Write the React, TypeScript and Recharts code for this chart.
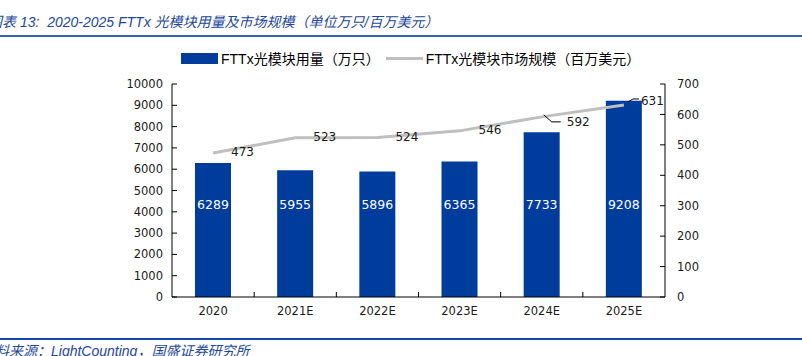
import { ComposedChart, Bar, Line, XAxis, YAxis, LabelList } from 'recharts';

const years = ['2020', '2021E', '2022E', '2023E', '2024E', '2025E'];
const volume = [6289, 5955, 5896, 6365, 7733, 9208];
const market = [473, 523, 524, 546, 592, 631];
const leftTicks = [0, 1000, 2000, 3000, 4000, 5000, 6000, 7000, 8000, 9000, 10000];
const rightTicks = [0, 100, 200, 300, 400, 500, 600, 700];

const data = years.map((year, i) => ({ year, volume: volume[i], market: market[i] }));

const BLUE = '#003c9b';
const GREY = '#bfbfbf';
const TICK_FONT = '"DejaVu Sans", Tahoma, sans-serif';
const NOTE_FONT = '"Liberation Sans", "Noto Sans CJK SC", sans-serif';

const W = 802;
const H = 356;
const PLOT_LEFT = 172;
const PLOT_RIGHT = 665;
const PLOT_TOP = 84;
const PLOT_BOTTOM = 297;
const BAND = (PLOT_RIGHT - PLOT_LEFT) / years.length;

// label placement next to each line point (dx, dy, leader line or not)
const lineLabelPos = [
    { dx: 18, dy: -1, leader: null },
    { dx: 18, dy: -1, leader: null },
    { dx: 18, dy: -1, leader: null },
    { dx: 19, dy: -1, leader: null },
    { dx: 25, dy: 5, leader: [[2, -2], [10, 5], [19, 5]] },
    { dx: 17, dy: -4, leader: [[4, -3], [9, -6], [15, -6]] },
];

const CategoryTick = (props: any) => {
    const { x, payload, index } = props;
    return (
        <g>
            <text x={x} y={PLOT_BOTTOM + 18} textAnchor="middle" fontSize={11.5} fontFamily={TICK_FONT} fill="#1a1a1a">
                {payload.value}
            </text>
            {index < years.length - 1 && (
                <line x1={x + BAND / 2} x2={x + BAND / 2} y1={PLOT_BOTTOM} y2={PLOT_BOTTOM - 5} stroke="#000" strokeWidth={1} />
            )}
        </g>
    );
};

const BarValueLabel = (props: any) => {
    const { x, y, width, height, value } = props;
    return (
        <text x={x + width / 2} y={y + height - 93} textAnchor="middle" dominantBaseline="central" fontSize={12.5} fontFamily={TICK_FONT} fill="#fff">
            {value}
        </text>
    );
};

const LineValueLabel = (props: any) => {
    const { x, y, value, index } = props;
    const pos = lineLabelPos[index];
    return (
        <g>
            {pos.leader && (
                <polyline
                    points={pos.leader.map(([a, b]) => `${x + a},${y + b}`).join(' ')}
                    fill="none"
                    stroke="#000"
                    strokeWidth={1}
                />
            )}
            <text x={x + pos.dx} y={y + pos.dy} textAnchor="start" dominantBaseline="central" fontSize={12} fontFamily={TICK_FONT} fill="#1a1a1a">
                {value}
            </text>
        </g>
    );
};

export default function App() {
    return (
        <div style={{ position: 'absolute', left: 0, top: 0, width: W, height: H, overflow: 'hidden', background: '#fff' }}>
            <div style={{ position: 'absolute', left: -12, top: 11, whiteSpace: 'nowrap', fontSize: 14, fontStyle: 'italic', color: '#24479a', fontFamily: NOTE_FONT }}>
                图表 13:&nbsp; 2020-2025 FTTx 光模块用量及市场规模（单位万只/百万美元）
            </div>
            <div style={{ position: 'absolute', left: 0, top: 35, width: W, height: 2, background: '#2e66b5' }} />

            <div style={{ position: 'absolute', left: 181, top: 48, display: 'flex', alignItems: 'center', whiteSpace: 'nowrap', fontSize: 14, color: '#000', fontFamily: NOTE_FONT }}>
                <span style={{ display: 'inline-block', width: 37, height: 11, background: BLUE, marginRight: 3 }} />
                <span>FTTx光模块用量（万只）</span>
                <span style={{ display: 'inline-block', width: 37, height: 3, background: GREY, marginLeft: 6, marginRight: 3 }} />
                <span>FTTx光模块市场规模（百万美元）</span>
            </div>

            <div style={{ position: 'absolute', left: 0, top: 0 }}>
                <ComposedChart
                    width={W}
                    height={H}
                    data={data}
                    margin={{ top: PLOT_TOP, right: 0, bottom: 0, left: 0 }}
                    barCategoryGap={0}
                >
                    <XAxis
                        dataKey="year"
                        height={H - PLOT_BOTTOM}
                        axisLine={{ stroke: '#000', strokeWidth: 1 }}
                        tickLine={false}
                        tick={<CategoryTick />}
                        interval={0}
                    />
                    <YAxis
                        yAxisId="left"
                        orientation="left"
                        width={PLOT_LEFT}
                        domain={[0, 10000]}
                        ticks={leftTicks}
                        interval={0}
                        axisLine={{ stroke: '#000', strokeWidth: 1 }}
                        tickLine={{ stroke: '#000' }}
                        tickSize={-5}
                        tickMargin={14}
                        tick={{ fontSize: 11.5, fontFamily: TICK_FONT, fill: '#1a1a1a' }}
                    />
                    <YAxis
                        yAxisId="right"
                        orientation="right"
                        width={W - PLOT_RIGHT}
                        domain={[0, 700]}
                        ticks={rightTicks}
                        interval={0}
                        axisLine={{ stroke: '#000', strokeWidth: 1 }}
                        tickLine={{ stroke: '#000' }}
                        tickSize={-5}
                        tickMargin={17}
                        tick={{ fontSize: 11.5, fontFamily: TICK_FONT, fill: '#1a1a1a' }}
                    />
                    <Bar yAxisId="left" dataKey="volume" fill={BLUE} barSize={36} isAnimationActive={false}>
                        <LabelList dataKey="volume" content={<BarValueLabel />} />
                    </Bar>
                    <Line
                        yAxisId="right"
                        type="linear"
                        dataKey="market"
                        stroke={GREY}
                        strokeWidth={3}
                        dot={false}
                        activeDot={false}
                        isAnimationActive={false}
                    >
                        <LabelList dataKey="market" content={<LineValueLabel />} />
                    </Line>
                </ComposedChart>
            </div>

            <div style={{ position: 'absolute', left: 0, top: 338, width: W, height: 2, background: '#1347a8' }} />
            <div style={{ position: 'absolute', left: -19, top: 340, whiteSpace: 'nowrap', fontSize: 14, fontStyle: 'italic', color: '#24479a', fontFamily: NOTE_FONT }}>
                资料来源：LightCounting，国盛证券研究所
            </div>
        </div>
    );
}
